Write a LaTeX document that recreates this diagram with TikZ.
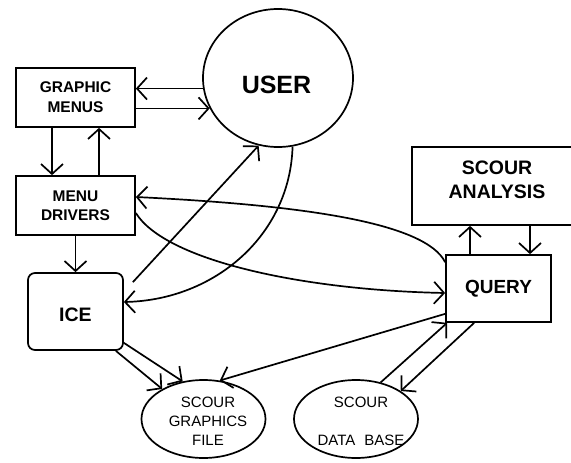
\documentclass[tikz,border=0pt]{standalone}
\usepackage{fontspec}
\setmainfont{Liberation Sans}
\usetikzlibrary{arrows.meta,shapes.geometric,calc}
\tikzset{
  box/.style={draw,line width=1.7pt,inner sep=0pt,align=center},
  oval/.style={draw,ellipse,line width=1.7pt,inner sep=0pt},
  txt/.style={inner sep=0pt,align=center},
  barb/.tip={Straight Barb[length=10pt,width=22pt,line width=1.7pt]},
  arr/.style={line width=1.7pt,-barb}}
\begin{document}
\begin{tikzpicture}[x=1pt,y=-1pt]
\useasboundingbox (0,0) rectangle (571,463);
\clip (0,0) rectangle (571,463);
% nodes
\node[oval,minimum width=150pt,minimum height=138pt] (user) at (278,78) {};
\node[txt,font=\fontsize{25}{30}\selectfont\bfseries] (usert) at (276.5,85) {USER};
\node[box,minimum width=119pt,minimum height=59pt,font=\fontsize{15.5}{20}\selectfont\bfseries] (gm) at (75.5,97.5) {GRAPHIC\\MENUS};
\node[box,minimum width=119pt,minimum height=59pt,font=\fontsize{15.5}{19}\selectfont\bfseries] (md) at (75.5,205.5) {MENU\\DRIVERS};
\node[box,rounded corners=7pt,minimum width=95pt,minimum height=77pt,text height=21pt,font=\fontsize{19.5}{23}\selectfont\bfseries] (ice) at (75.5,311.5) {ICE};
\node[box,minimum width=170pt,minimum height=78pt,text depth=12pt,font=\fontsize{19.5}{24}\selectfont\bfseries] (sa) at (497,186) {SCOUR\\ANALYSIS};
\node[box,minimum width=105pt,minimum height=67pt,font=\fontsize{19}{23}\selectfont\bfseries] (query) at (498.5,288.5) {QUERY};
\node[oval,minimum width=124pt,minimum height=78pt] (sgf) at (203.5,419) {};
\node[txt,font=\fontsize{15}{19}\selectfont] (sgft) at (208,421) {SCOUR\\GRAPHICS\\FILE};
\node[oval,minimum width=124pt,minimum height=78pt] (sdb) at (356,419) {};
\node[txt,font=\fontsize{15}{19}\selectfont] (sdbt) at (361,421) {SCOUR\\[19pt]DATA\hspace{0.6em}BASE};
% connectors
\draw[arr] (user.188) -- (user.188 -| gm.east);
\draw[arr] (gm.east |- user.204) -- (user.204);
\draw[arr] ([xshift=-23.5pt]gm.south) -- ([xshift=-23.5pt]md.north);
\draw[arr] ([xshift=23.5pt]md.north) -- ([xshift=23.5pt]gm.south);
\draw[arr] (md.south) -- (ice.north);
\draw[arr] ([shift={(9,10)}]ice.north east) -- (user.254);
\draw[arr] (user.282) .. controls (290,235) and (215,300) .. ([shift={(0,-9.5)}]ice.east);
\draw[arr] ([shift={(0,8)}]query.north west) .. controls (425,222) and (300,205) .. ([shift={(0,-8.5)}]md.east);
\draw[arr] ([shift={(0,7.5)}]md.east) .. controls (165,260) and (300,290) .. ([shift={(0,4.5)}]query.west);
\draw[arr] ([shift={(0,-9)}]query.south west) -- (sgf.67);
\draw[arr] ([shift={(-8,0)}]ice.south east) -- (sgf.144);
\draw[arr] ([shift={(0,-8)}]ice.south east) -- (sgf.119);
\draw[arr] (sdb.56) -- ([shift={(2,0)}]query.south west);
\draw[arr] ([shift={(29,0)}]query.south west) -- (sdb.32);
\draw[arr] ([xshift=-28.5pt]query.north) -- ([xshift=-28.5pt]query.north |- sa.south);
\draw[arr] ([xshift=31.5pt]query.north |- sa.south) -- ([xshift=31.5pt]query.north);
\end{tikzpicture}
\end{document}
